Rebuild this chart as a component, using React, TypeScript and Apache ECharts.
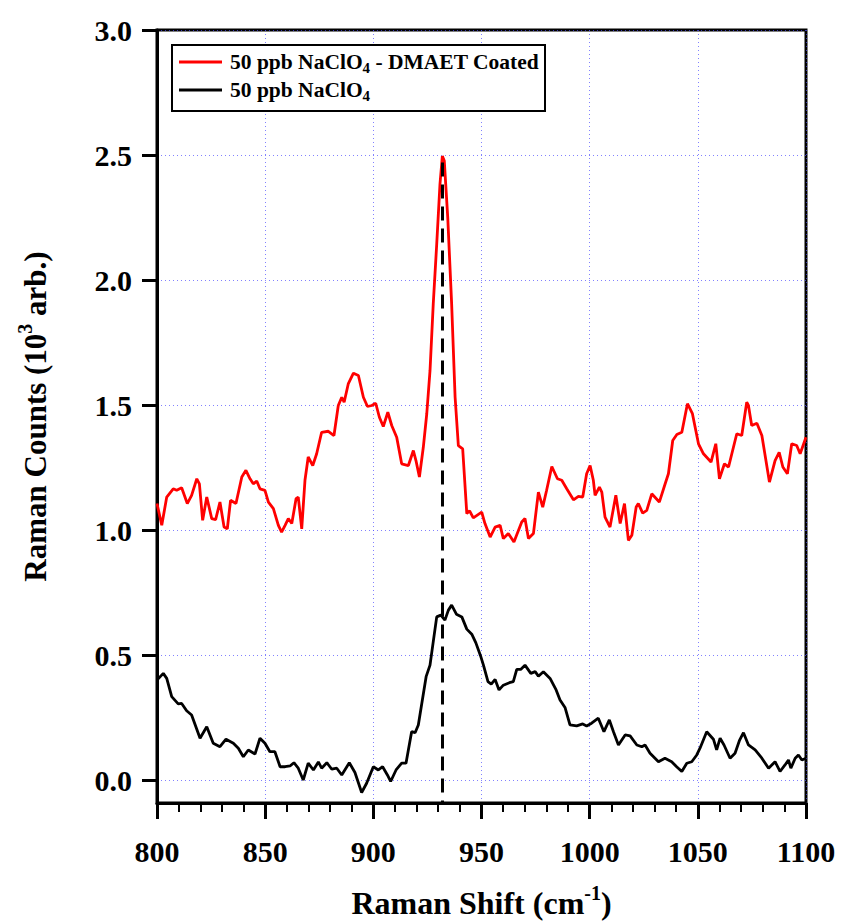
import React, { useEffect, useRef } from 'react';
import * as echarts from 'echarts';

const redName = '50 ppb NaClO4 - DMAET Coated';
const blackName = '50 ppb NaClO4';

const redShift = [800, 802.2, 804.5, 807.5, 809.1, 811.4, 814, 816, 818.4, 819.6, 821.1, 823, 825.3, 827.1, 829.1, 831, 832.5, 834, 836.5, 839.2, 841.1, 843, 844.5, 846.1, 847.6, 849.9, 851.5, 853.8, 856.1, 857.6, 859.2, 860.7, 862.3, 864.3, 865.3, 866.9, 868.4, 869.9, 872, 873.8, 876.1, 879.2, 881.8, 883.8, 885.4, 886.5, 888.4, 890.8, 893.1, 895.4, 897.3, 899.3, 901.1, 902.8, 904.6, 906.7, 908.5, 910.8, 913.1, 916.2, 918.5, 919.7, 921.3, 923.1, 924.7, 926.2, 927.7, 929.3, 930.8, 931.9, 932.8, 934.4, 936.2, 937.8, 939.3, 941.3, 943.2, 944.5, 946.2, 950.1, 951.6, 954, 956.3, 958.6, 960.1, 962.4, 965, 968.6, 970.1, 971.7, 974, 976.3, 978.3, 980.1, 982.5, 985.1, 987.1, 989.4, 992.5, 994.8, 996.8, 998.6, 1000.2, 1001.7, 1002.5, 1004.5, 1005.6, 1007.1, 1009.4, 1012.1, 1014.1, 1016.1, 1017.9, 1019.5, 1021.5, 1022.5, 1024.5, 1026.4, 1028.7, 1032.2, 1034.9, 1036.4, 1038.4, 1040.3, 1042.6, 1045.2, 1047.5, 1050.3, 1052.6, 1056.1, 1058.3, 1060, 1062.3, 1064.2, 1068, 1070.3, 1072.6, 1073.4, 1074.9, 1077.3, 1079.6, 1083.1, 1085.7, 1087.6, 1089.3, 1091.4, 1093.4, 1095.7, 1097.3, 1100];
const redCounts = [1.107, 1.02, 1.133, 1.166, 1.16, 1.17, 1.107, 1.14, 1.206, 1.186, 1.04, 1.133, 1.047, 1.043, 1.113, 1.013, 1.006, 1.12, 1.107, 1.213, 1.24, 1.206, 1.186, 1.197, 1.166, 1.16, 1.113, 1.087, 1.02, 0.993, 1.02, 1.047, 1.027, 1.127, 1.133, 1.006, 1.2, 1.293, 1.259, 1.306, 1.392, 1.396, 1.379, 1.499, 1.532, 1.512, 1.585, 1.628, 1.619, 1.532, 1.495, 1.499, 1.508, 1.452, 1.415, 1.472, 1.419, 1.372, 1.266, 1.259, 1.319, 1.279, 1.213, 1.332, 1.466, 1.638, 1.905, 2.144, 2.383, 2.496, 2.477, 2.25, 1.905, 1.532, 1.339, 1.326, 1.067, 1.078, 1.05, 1.073, 1.027, 0.973, 1.013, 1.02, 0.967, 0.987, 0.953, 1.033, 1.047, 0.967, 0.987, 1.153, 1.093, 1.16, 1.255, 1.206, 1.2, 1.166, 1.122, 1.136, 1.133, 1.226, 1.259, 1.2, 1.14, 1.173, 1.153, 1.053, 1.013, 1.14, 1.027, 1.107, 0.96, 0.98, 1.093, 1.107, 1.069, 1.08, 1.146, 1.113, 1.186, 1.226, 1.359, 1.383, 1.392, 1.506, 1.466, 1.346, 1.306, 1.273, 1.346, 1.206, 1.266, 1.253, 1.386, 1.379, 1.512, 1.499, 1.419, 1.428, 1.379, 1.193, 1.279, 1.312, 1.253, 1.226, 1.346, 1.339, 1.306, 1.372];

const blackShift = [800, 802.9, 804.5, 806.8, 809.8, 811.4, 813.7, 816, 819.9, 823, 826, 829.1, 831.9, 835.3, 837.6, 839.9, 842.2, 845.3, 847.6, 849.9, 852.2, 854.5, 856.9, 859.2, 861.5, 863.3, 865.3, 867.6, 869.9, 872.3, 874.6, 876.1, 878.5, 880.8, 883.1, 885.4, 888.9, 891.5, 894.6, 896.9, 900, 902.3, 904.3, 906.5, 908, 910.5, 913.1, 915.1, 917.7, 919.3, 920.8, 922.4, 924.4, 926.2, 927.8, 929.3, 931.2, 933.1, 934.7, 936.2, 938.4, 940.9, 943.2, 945.5, 947.4, 949.5, 950.9, 953, 954.5, 956.3, 958.1, 960.1, 962.9, 964.7, 966.3, 968.1, 970.1, 972.8, 974.8, 976.3, 978.6, 981.7, 984.5, 986.3, 988.6, 990.9, 994, 996.8, 998.6, 1000.9, 1004, 1006.6, 1009.1, 1011, 1013.3, 1016.4, 1018.7, 1021.8, 1024.1, 1025.6, 1027.9, 1031.8, 1034.8, 1037.9, 1040.2, 1042.6, 1044.9, 1047.2, 1049.5, 1051, 1054.1, 1057.2, 1058.7, 1060.3, 1062.1, 1064.9, 1067.2, 1069.2, 1071.1, 1073.4, 1076.5, 1079.6, 1082.7, 1085.7, 1088, 1090.3, 1091.9, 1093, 1095, 1096.5, 1098.1, 1100];
const blackCounts = [0.401, 0.428, 0.408, 0.335, 0.306, 0.308, 0.279, 0.262, 0.169, 0.215, 0.149, 0.135, 0.165, 0.149, 0.129, 0.095, 0.122, 0.106, 0.169, 0.149, 0.115, 0.115, 0.055, 0.055, 0.058, 0.071, 0.049, 0.002, 0.069, 0.042, 0.074, 0.049, 0.071, 0.045, 0.049, 0.022, 0.071, 0.032, -0.048, -0.011, 0.055, 0.042, 0.055, 0.022, -0.004, 0.042, 0.069, 0.069, 0.195, 0.191, 0.222, 0.308, 0.415, 0.461, 0.561, 0.654, 0.661, 0.641, 0.681, 0.701, 0.665, 0.654, 0.605, 0.585, 0.55, 0.5, 0.461, 0.395, 0.385, 0.404, 0.362, 0.381, 0.391, 0.395, 0.444, 0.444, 0.461, 0.428, 0.435, 0.417, 0.435, 0.408, 0.362, 0.322, 0.292, 0.222, 0.218, 0.226, 0.218, 0.229, 0.249, 0.195, 0.242, 0.195, 0.142, 0.182, 0.178, 0.142, 0.135, 0.142, 0.109, 0.075, 0.089, 0.075, 0.055, 0.036, 0.069, 0.075, 0.102, 0.129, 0.195, 0.165, 0.122, 0.169, 0.142, 0.089, 0.109, 0.159, 0.191, 0.142, 0.122, 0.089, 0.049, 0.075, 0.036, 0.062, 0.082, 0.049, 0.089, 0.102, 0.082, 0.089];

const yTickValues = [0, 0.5, 1.0, 1.5, 2.0, 2.5, 3.0];
const peakShift = 932;
const peakTop = 2.47;
const xMin = 800;
const xMax = 1100;
const yMin = -0.09;
const yMax = 3.0;

const FONT = '"Liberation Serif", "Times New Roman", serif';

export default function App() {
  const ref = useRef<HTMLDivElement>(null);
  useEffect(() => {
    document.body.style.margin = '0';
    const chart = echarts.init(ref.current!, null, { renderer: 'svg' });
    const redData = redShift.map((x, i) => [x, redCounts[i]]);
    const blackData = blackShift.map((x, i) => [x, blackCounts[i]]);
    const gridColor = '#4d4dff';
    chart.setOption({
      animation: false,
      backgroundColor: '#fff',
      grid: {
        left: 157, right: 35, top: 30, bottom: 119,
        show: true, borderColor: '#000', borderWidth: 3,
        containLabel: false,
        outerBoundsMode: 'none',
      },
      graphic: [
        {
          type: 'rect', z: 5,
          shape: { x: 172, y: 45, width: 373, height: 66 },
          style: { fill: '#fff', stroke: '#000', lineWidth: 2 },
        },
      ],
      legend: {
        z: 10,
        orient: 'vertical',
        left: 179, top: 49,
        padding: 0,
        itemWidth: 43, itemHeight: 3, itemGap: 2,
        icon: 'rect',
        data: [redName, blackName],
        formatter: (name: string) => name.replace('NaClO4', 'NaClO{sub|4}'),
        textStyle: {
          fontFamily: FONT, fontWeight: 'bold', fontSize: 21.5, color: '#000',
          lineHeight: 26, padding: [0, 0, 0, 3],
          rich: {
            sub: { fontFamily: FONT, fontWeight: 'bold', fontSize: 15, color: '#000', verticalAlign: 'bottom', lineHeight: 26 },
          },
        },
      },
      xAxis: {
        type: 'value', min: xMin, max: xMax, interval: 50,
        name: 'Raman Shift (cm{sup|-1})',
        nameLocation: 'middle', nameGap: 80,
        nameTextStyle: {
          fontFamily: FONT, fontWeight: 'bold', fontSize: 32, color: '#000', lineHeight: 40,
          rich: { sup: { fontFamily: FONT, fontWeight: 'bold', fontSize: 20, color: '#000', verticalAlign: 'top', lineHeight: 20 } },
        },
        axisLine: { onZero: false, lineStyle: { color: '#000', width: 3 } },
        axisTick: { inside: false, length: 16, lineStyle: { color: '#000', width: 3 } },
        minorTick: { show: true, splitNumber: 5, length: 9, lineStyle: { color: '#000', width: 2 } },
        axisLabel: {
          margin: 33, fontFamily: FONT, fontWeight: 'bold', fontSize: 30, color: '#000',
          formatter: (v: number) => String(v),
        },
        splitLine: { show: true, lineStyle: { color: gridColor, type: [1, 3], width: 1, opacity: 0.7 } },
      },
      yAxis: {
        type: 'value', min: yMin, max: yMax,
        name: 'Raman Counts (10{sup|3} arb.)',
        nameLocation: 'middle', nameGap: 102, nameRotate: 90,
        nameTextStyle: {
          fontFamily: FONT, fontWeight: 'bold', fontSize: 31, color: '#000', lineHeight: 40,
          rich: { sup: { fontFamily: FONT, fontWeight: 'bold', fontSize: 20, color: '#000', verticalAlign: 'top', lineHeight: 20 } },
        },
        axisLine: { onZero: false, lineStyle: { color: '#000', width: 3 } },
        axisTick: { inside: false, length: 15, customValues: yTickValues, lineStyle: { color: '#000', width: 3 } },
        axisLabel: {
          margin: 25, customValues: yTickValues, fontFamily: FONT, fontWeight: 'bold', fontSize: 30, color: '#000',
          formatter: (v: number) => v.toFixed(1),
        },
        splitLine: { show: true, lineStyle: { color: gridColor, type: [1, 3], width: 1, opacity: 0.7 } },
      },
      series: [
        {
          name: redName, type: 'line', data: redData, showSymbol: false, symbol: 'none', z: 2,
          lineStyle: { color: '#ff0000', width: 2.8 }, itemStyle: { color: '#ff0000' },
        },
        {
          name: blackName, type: 'line', data: blackData, showSymbol: false, symbol: 'none', z: 3,
          lineStyle: { color: '#000', width: 2.8 }, itemStyle: { color: '#000' },
          markLine: {
            silent: true, symbol: ['none', 'none'], label: { show: false },
            lineStyle: { color: '#000', type: [14, 8], width: 3 },
            data: [[{ coord: [peakShift, peakTop] }, { coord: [peakShift, yMin] }]],
          },
        },
      ],
    });
    return () => chart.dispose();
  }, []);
  return <div ref={ref} style={{ position: 'absolute', left: 0, top: 0, width: 841, height: 922 }} />;
}
